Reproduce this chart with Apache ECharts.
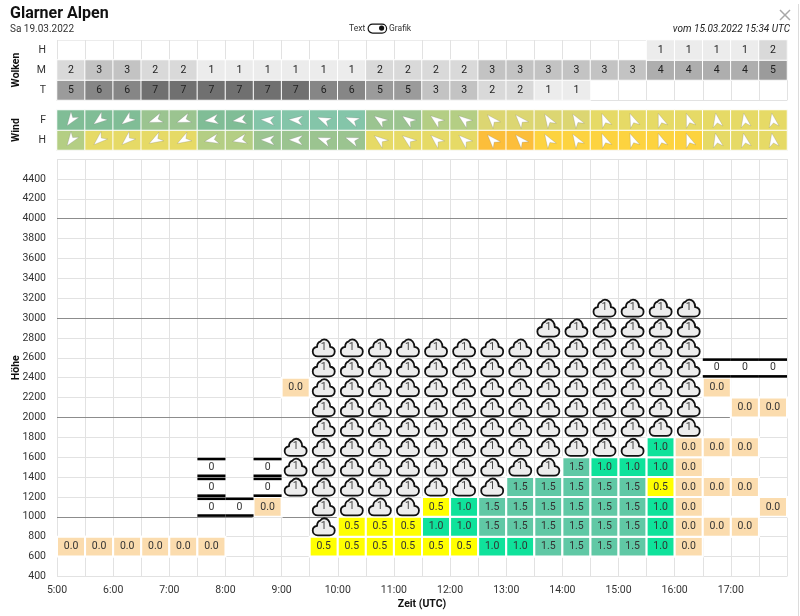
<!DOCTYPE html>
<html>
<head>
<meta charset="utf-8">
<title>Glarner Alpen</title>
<script src="https://cdn.jsdelivr.net/npm/echarts@6/dist/echarts.min.js"></script>
<style>html,body{margin:0;padding:0;background:#fff}#c{width:800px;height:616px}</style>
</head>
<body>
<div id="c"></div>
<script>
var _ = null, C = 'C', Z = 'Z';

var halfHours = ['5:00','5:30','6:00','6:30','7:00','7:30','8:00','8:30','9:00','9:30','10:00','10:30','11:00','11:30','12:00','12:30','13:00','13:30','14:00','14:30','15:00','15:30','16:00','16:30','17:00','17:30'];

/* clouds: octas per half hour */
var cloudHigh = [_,_,_,_,_,_,_,_,_,_,_,_,_,_,_,_,_,_,_,_,_,1,1,1,1,2];
var cloudMid  = [2,3,3,2,2,1,1,1,1,1,1,2,2,2,2,3,3,3,3,3,3,4,4,4,4,5];
var cloudLow  = [5,6,6,7,7,7,7,7,7,6,6,5,5,3,3,2,2,1,1,_,_,_,_,_,_,_];

/* wind: speed class and bearing the arrow points to */
var windSpeedF = [2,2,2,3,3,2,2,1,1,1,1,3,3,4,4,5,5,5,5,6,6,6,6,6,6,6];
var windSpeedH = [4,6,6,6,6,4,4,3,3,3,3,6,6,6,6,8,8,7,7,7,7,7,7,6,6,6];
var windDirF = [215,232,232,250,250,262,262,275,275,293,293,305,305,308,308,318,318,328,328,338,338,340,340,350,350,350];
var windDirH = [215,228,228,240,240,258,258,272,272,290,290,308,308,312,312,318,318,328,328,338,338,340,340,348,348,350];

/* icing / cloud rows by lower altitude: number = icing value, C = cloud, Z = zero-layer */
var altitudes = [600,800,1000,1200,1400,1600,1800,2000,2200,2400,2600,2800,3000];
var row600  = [0,0,0,0,0,0,_,_,_,.5,.5,.5,.5,.5,.5,1,1,1.5,1.5,1.5,1.5,1,0,_,_,_];
var row800  = [_,_,_,_,_,_,_,_,_,C,.5,.5,.5,1,1,1.5,1.5,1.5,1.5,1.5,1.5,1,0,0,0,_];
var row1000 = [_,_,_,_,_,Z,Z,0,_,C,C,C,C,.5,1,1.5,1.5,1.5,1.5,1.5,1.5,1,0,_,_,0];
var row1200 = [_,_,_,_,_,Z,_,Z,C,C,C,C,C,C,C,C,1.5,1.5,1.5,1.5,1.5,.5,0,0,0,_];
var row1400 = [_,_,_,_,_,Z,_,Z,C,C,C,C,C,C,C,C,C,C,1.5,1,1,1,0,_,_,_];
var row1600 = [_,_,_,_,_,_,_,_,C,C,C,C,C,C,C,C,C,C,C,C,C,1,0,0,0,_];
var row1800 = [_,_,_,_,_,_,_,_,_,C,C,C,C,C,C,C,C,C,C,C,C,C,C,_,_,_];
var row2000 = [_,_,_,_,_,_,_,_,_,C,C,C,C,C,C,C,C,C,C,C,C,C,C,_,0,0];
var row2200 = [_,_,_,_,_,_,_,_,0,C,C,C,C,C,C,C,C,C,C,C,C,C,C,0,_,_];
var row2400 = [_,_,_,_,_,_,_,_,_,C,C,C,C,C,C,C,C,C,C,C,C,C,C,Z,Z,Z];
var row2600 = [_,_,_,_,_,_,_,_,_,C,C,C,C,C,C,C,C,C,C,C,C,C,C,_,_,_];
var row2800 = [_,_,_,_,_,_,_,_,_,_,_,_,_,_,_,_,_,C,C,C,C,C,C,_,_,_];
var row3000 = [_,_,_,_,_,_,_,_,_,_,_,_,_,_,_,_,_,_,_,C,C,C,C,_,_,_];
var rows = [row600,row800,row1000,row1200,row1400,row1600,row1800,row2000,row2200,row2400,row2600,row2800,row3000];
var heavyLevels = [1000,2000,3000,4000];

var FONT = 'Roboto, "Liberation Sans", sans-serif';
var cloudColors = ['#ececec','#d9d9d9','#c3c3c3','#aeaeae','#9b9b9b','#868686','#707070'];
var windColors = ['#84c5a9','#80bd96','#9bc490','#b4ce84','#dcd672','#e6da66','#fdd33f','#fcbe3a'];
var icingColors = {'0':'#fbdcae','0.5':'#ffff00','1':'#0fe29b','1.5':'#60c8a5'};
var CLOUD = 'M6,18.6 C3,18.6 0.8,16.4 0.8,13.6 C0.8,11 2.8,9.2 5.2,8.9 C5.2,6.2 6.6,4.2 8.4,3.6 C9.4,2 10.8,1.2 12.4,1.2 C15.8,1.2 18.6,4.4 18.6,8.9 C21.2,9.2 23.2,11 23.2,13.6 C23.2,16.4 21,18.6 18,18.6 Z';
var ARROW = 'path://M0,-10 L6.5,9 L0,3.5 L-6.5,9 Z';

var cloudData = [], windData = [], arrowData = [], cellData = [];
[cloudLow, cloudMid, cloudHigh].forEach(function (r, y) {
  r.forEach(function (v, x) { if (v !== _) cloudData.push([x, y, v]); });
});
[[windSpeedH, windDirH], [windSpeedF, windDirF]].forEach(function (p, y) {
  p[0].forEach(function (v, x) {
    windData.push([x, y, v]);
    arrowData.push([x, y, p[1][x]]);
  });
});
rows.forEach(function (r, i) {
  r.forEach(function (v, k) {
    if (v !== _) cellData.push([5 + k * 0.5, altitudes[i], v]);
  });
});

function renderCell(params, api) {
  var t = api.value(0), alt = api.value(1), v = cellData[params.dataIndex][2];
  var a = api.coord([t, alt + 200]), b = api.coord([t + 0.5, alt]);
  var w = b[0] - a[0], h = b[1] - a[1], cx = a[0] + w / 2, cy = a[1] + h / 2;
  var kids = [];
  var txt = function (s, y, col) {
    return {type: 'text', z2: 5, style: {text: s, x: cx, y: y, textAlign: 'center', textVerticalAlign: 'middle', font: '10.5px ' + FONT, fill: col}};
  };
  if (v === 'C') {
    kids.push({type: 'path', z2: 3, shape: {pathData: CLOUD, x: cx - 11, y: cy - 9, width: 22, height: 18},
      style: {fill: '#ededed', stroke: '#111', lineWidth: 1.8}});
    kids.push(txt('1', cy - 0.5, '#444'));
  } else if (v === 'Z') {
    kids.push({type: 'rect', z2: 2, shape: {x: a[0], y: a[1], width: w, height: h}, style: {fill: '#fff'}});
    kids.push({type: 'rect', z2: 3, shape: {x: a[0], y: a[1] + 0.5, width: w, height: 2.6}, style: {fill: '#000'}});
    kids.push({type: 'rect', z2: 3, shape: {x: a[0], y: b[1] - 2.6, width: w, height: 2.6}, style: {fill: '#000'}});
    kids.push(txt('0', cy, '#333'));
  } else {
    kids.push({type: 'rect', z2: 2, shape: {x: a[0], y: a[1], width: w, height: h},
      style: {fill: icingColors[String(v)], stroke: '#fff', lineWidth: 2}});
    kids.push(txt(v.toFixed(1), cy, '#333'));
  }
  return {type: 'group', children: kids};
}

function pieces(colors) {
  return colors.map(function (c, i) { return {value: i + 1, color: c}; });
}
var axisText = {color: '#333', fontFamily: FONT, fontSize: 10.5};
var nameText = {color: '#111', fontFamily: FONT, fontSize: 10.5, fontWeight: 'bold'};
var gridLine = {show: true, lineStyle: {color: '#e2e2e2', width: 1}};
function stripX(grid) {
  return {type: 'category', gridIndex: grid, data: halfHours, axisLabel: {show: false}, axisTick: {show: false},
    axisLine: {show: true, lineStyle: {color: '#e2e2e2'}}, splitLine: {show: true, interval: 0, lineStyle: {color: '#e2e2e2'}}};
}
function stripY(grid, cats, name, gap) {
  return {type: 'category', gridIndex: grid, data: cats, name: name, nameLocation: 'middle', nameRotate: 90, nameGap: gap,
    nameMoveOverlap: false, nameTextStyle: nameText, axisTick: {show: false}, axisLine: {show: false}, axisLabel: Object.assign({margin: 11}, axisText),
    splitLine: {show: true, interval: 0, lineStyle: {color: '#ececec'}}};
}

var chart = echarts.init(document.getElementById('c'), null, {renderer: 'canvas'});
chart.setOption({
  animation: false,
  backgroundColor: '#fff',
  textStyle: {fontFamily: FONT},
  title: [
    {text: 'Glarner Alpen', left: 10, top: 6, padding: 0, textStyle: {fontFamily: FONT, fontSize: 16, fontWeight: 'bold', color: '#111'}},
    {text: 'Sa 19.03.2022', left: 10, top: 24, padding: 0, textStyle: {fontFamily: FONT, fontSize: 10, fontWeight: 'normal', color: '#333'}},
    {text: 'vom 15.03.2022 15:34 UTC', right: 10, top: 24, padding: 0, textStyle: {fontFamily: FONT, fontSize: 10, fontStyle: 'italic', fontWeight: 'normal', color: '#222'}}
  ],
  grid: [
    {left: 57, width: 730, top: 40, height: 60, outerBoundsMode: 'none'},
    {left: 57, width: 730, top: 110, height: 40, outerBoundsMode: 'none'},
    {left: 57, width: 730, top: 159, height: 417.5, outerBoundsMode: 'none'}
  ],
  xAxis: [
    stripX(0), stripX(1),
    {type: 'value', gridIndex: 2, min: 5, max: 18, interval: 0.5,
      name: 'Zeit (UTC)', nameLocation: 'middle', nameGap: 22, nameMoveOverlap: false, nameTextStyle: nameText,
      axisLine: {show: false}, axisTick: {show: false}, splitLine: gridLine,
      axisLabel: Object.assign({margin: 8, hideOverlap: false, formatter: function (v) {
        return (v % 1 === 0 && v < 18) ? v + ':00' : '';
      }}, axisText)}
  ],
  yAxis: [
    stripY(0, ['T', 'M', 'H'], 'Wolken', 35),
    stripY(1, ['H', 'F'], 'Wind', 35),
    {type: 'value', gridIndex: 2, min: 400, max: 4600, interval: 200,
      name: 'Höhe', nameLocation: 'middle', nameRotate: 90, nameGap: 35, nameMoveOverlap: false, nameTextStyle: nameText,
      axisLine: {show: false}, axisTick: {show: false}, splitLine: gridLine,
      axisLabel: Object.assign({margin: 11, hideOverlap: false, formatter: function (v) { return v < 4600 ? String(v) : ''; }}, axisText)}
  ],
  visualMap: [
    {type: 'piecewise', show: false, seriesIndex: 0, dimension: 2, pieces: pieces(cloudColors)},
    {type: 'piecewise', show: false, seriesIndex: 1, dimension: 2, pieces: pieces(windColors)}
  ],
  series: [
    {type: 'heatmap', xAxisIndex: 0, yAxisIndex: 0, data: cloudData, silent: true,
      itemStyle: {borderColor: '#fff', borderWidth: 1},
      label: {show: true, color: '#222', fontFamily: FONT, fontSize: 10.5, formatter: function (p) { return p.value[2]; }}},
    {type: 'heatmap', xAxisIndex: 1, yAxisIndex: 1, data: windData, silent: true,
      itemStyle: {borderColor: '#fff', borderWidth: 1}},
    {type: 'scatter', xAxisIndex: 1, yAxisIndex: 1, data: arrowData, z: 4, silent: true,
      symbol: ARROW, symbolSize: [10, 14],
      symbolRotate: function (v) { return -v[2]; },
      itemStyle: {color: '#fff', opacity: 1, borderColor: 'rgba(120,120,120,0.55)', borderWidth: 0.4}},
    {type: 'custom', xAxisIndex: 2, yAxisIndex: 2, data: cellData.map(function (d) { return [d[0], d[1]]; }),
      renderItem: renderCell, z: 3, silent: true, clip: false,
      markLine: {silent: true, symbol: 'none', z: 1, animation: false, label: {show: false},
        lineStyle: {color: '#8c8c8c', width: 1, type: 'solid'},
        data: heavyLevels.map(function (y) { return {yAxis: y}; })}}
  ],
  graphic: [
    {type: 'text', left: 349, top: 24, style: {text: 'Text', font: '8.5px ' + FONT, fill: '#333'}},
    {type: 'text', left: 389, top: 24, style: {text: 'Grafik', font: '8.5px ' + FONT, fill: '#333'}},
    {type: 'rect', left: 367.5, top: 23.5, shape: {width: 18.5, height: 9, r: 4.5}, style: {fill: '#fff', stroke: '#111', lineWidth: 1.2}},
    {type: 'circle', left: 379, top: 25.5, shape: {r: 2.6}, style: {fill: '#111'}},
    {type: 'polyline', shape: {points: [[780, 10], [790, 20]]}, style: {stroke: '#a8a8a8', lineWidth: 1.5}},
    {type: 'polyline', shape: {points: [[790, 10], [780, 20]]}, style: {stroke: '#a8a8a8', lineWidth: 1.5}},
    {type: 'polyline', shape: {points: [[798.5, 4], [798.5, 616]]}, style: {stroke: '#dcdcdc', lineWidth: 1}}
  ]
});
</script>
</body>
</html>
